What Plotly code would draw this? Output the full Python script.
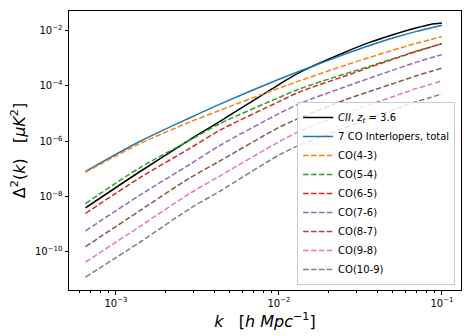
import plotly.graph_objects as go

# wavenumber k [h/Mpc]
k_vals = [6.5e-4, 1.4e-3, 2.85e-3, 4.35e-3, 1.0e-2, 1.35e-2, 2.5e-2, 3.6e-2, 5.0e-2, 7.0e-2, 8.5e-2, 1.0e-1]

cii = [3.9e-9, 7.9e-8, 1.15e-6, 5.25e-6, 1.12e-4, 3.16e-4, 1.58e-3, 3.72e-3, 7.08e-3, 1.26e-2, 1.66e-2, 1.86e-2]
co_total = [8.1e-8, 9.8e-7, 7.08e-6, 2.19e-5, 1.74e-4, 3.47e-4, 1.35e-3, 2.88e-3, 5.37e-3, 9.33e-3, 1.23e-2, 1.55e-2]
co43 = [7.6e-8, 8.13e-7, 5.0e-6, 1.32e-5, 8.3e-5, 1.55e-4, 5.37e-4, 1.07e-3, 1.95e-3, 3.47e-3, 4.68e-3, 6.03e-3]
co54 = [5.6e-9, 1.10e-7, 1.10e-6, 4.37e-6, 3.8e-5, 7.94e-5, 2.63e-4, 5.13e-4, 9.55e-4, 1.82e-3, 2.51e-3, 3.31e-3]
co65 = [2.45e-9, 4.79e-8, 5.6e-7, 2.51e-6, 2.69e-5, 6.17e-5, 2.19e-4, 4.68e-4, 9.1e-4, 1.78e-3, 2.51e-3, 3.39e-3]
co76 = [5.75e-10, 1.12e-8, 1.48e-7, 7.08e-7, 1.0e-5, 2.34e-5, 8.9e-5, 1.91e-4, 3.72e-4, 7.24e-4, 1.02e-3, 1.35e-3]
co87 = [1.55e-10, 3.09e-9, 4.79e-8, 1.95e-7, 3.16e-6, 7.08e-6, 3.02e-5, 6.31e-5, 1.20e-4, 2.34e-4, 3.31e-4, 4.37e-4]
co98 = [4.27e-11, 8.3e-10, 1.32e-8, 5.6e-8, 9.55e-7, 2.34e-6, 9.8e-6, 2.09e-5, 4.07e-5, 8.13e-5, 1.12e-4, 1.55e-4]
co109 = [1.23e-11, 2.24e-10, 3.72e-9, 1.58e-8, 3.16e-7, 7.41e-7, 2.95e-6, 6.61e-6, 1.35e-5, 2.75e-5, 3.8e-5, 5.25e-5]

x_tick_vals = [1e-3, 1e-2, 1e-1]
x_tick_text = ["10<sup>\u22123</sup>", "10<sup>\u22122</sup>", "10<sup>\u22121</sup>"]
y_tick_vals = [1e-10, 1e-8, 1e-6, 1e-4, 1e-2]
y_tick_text = ["10<sup>\u221210</sup>", "10<sup>\u22128</sup>", "10<sup>\u22126</sup>", "10<sup>\u22124</sup>", "10<sup>\u22122</sup>"]
x_minor_vals = [m * 10.0 ** e for e in (-4, -3, -2) for m in range(2, 10)]

series = [
    ("<i>CII</i>, <i>z<sub>t</sub></i> = 3.6", cii, "black", "solid"),
    ("7 CO Interlopers, total", co_total, "#1f77b4", "solid"),
    ("CO(4-3)", co43, "#ff7f0e", "5.5px,2.4px"),
    ("CO(5-4)", co54, "#2ca02c", "5.5px,2.4px"),
    ("CO(6-5)", co65, "#d62728", "5.5px,2.4px"),
    ("CO(7-6)", co76, "#9467bd", "5.5px,2.4px"),
    ("CO(8-7)", co87, "#8c564b", "5.5px,2.4px"),
    ("CO(9-8)", co98, "#e377c2", "5.5px,2.4px"),
    ("CO(10-9)", co109, "#7f7f7f", "5.5px,2.4px"),
]

fig = go.Figure()
for name, vals, color, dash in series:
    fig.add_trace(go.Scatter(
        x=k_vals, y=vals, mode="lines", name=name,
        line=dict(color=color, width=1.5, dash=dash, shape="spline", smoothing=0.8),
    ))

axis_common = dict(
    type="log", showgrid=False, zeroline=False, showline=True, linecolor="black",
    linewidth=1, mirror=True, ticks="outside", ticklen=3.5, tickcolor="black",
    tickfont=dict(family="DejaVu Sans", size=10, color="black"),
)

# the page body adds an 8px offset, so the figure is sized to fill the rest
fig.update_layout(
    width=462, height=328,
    margin=dict(l=61, r=9, t=3, b=46),
    paper_bgcolor="white", plot_bgcolor="white",
    font=dict(family="DejaVu Sans", color="black"),
    xaxis=dict(
        **axis_common,
        range=[-3.288, -0.883],
        tickvals=x_tick_vals, ticktext=x_tick_text,
        minor=dict(tickvals=x_minor_vals, ticks="outside", ticklen=2, tickcolor="black"),
        title=dict(text="<i>k</i>\u00a0\u00a0\u00a0[<i>h\u00a0Mpc</i><sup>\u22121</sup>]",
                   font=dict(family="DejaVu Sans", size=16), standoff=8),
    ),
    yaxis=dict(
        **axis_common,
        range=[-11.375, -1.294],
        tickvals=y_tick_vals, ticktext=y_tick_text,
        title=dict(text="\u0394<sup>2</sup>(<i>k</i>)\u00a0\u00a0\u00a0[<i>\u03bcK</i><sup>2</sup>]",
                   font=dict(family="DejaVu Sans", size=16), standoff=13),
    ),
    legend=dict(
        x=0.985, y=0.018, xanchor="right", yanchor="bottom",
        bgcolor="rgba(255,255,255,0.8)", bordercolor="#cccccc", borderwidth=1,
        font=dict(family="DejaVu Sans", size=10, color="black"),
        tracegroupgap=0, itemwidth=30,
    ),
    showlegend=True,
)

fig.write_html("out.html")
